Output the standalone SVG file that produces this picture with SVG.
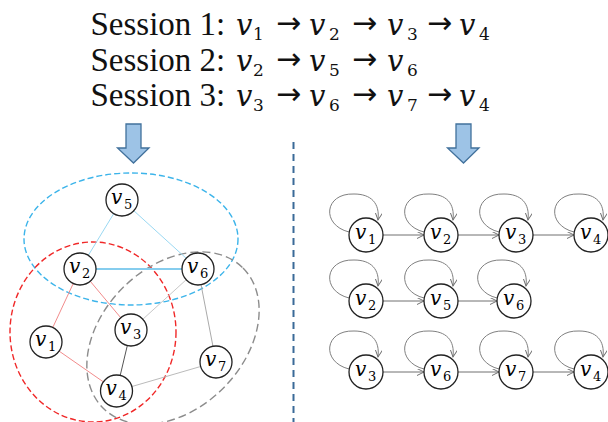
<svg xmlns="http://www.w3.org/2000/svg" width="608" height="422" viewBox="0 0 608 422">
<style>
.node circle{fill:#fff;stroke:#222;stroke-width:1.3}
.loop{fill:none;stroke:#808080;stroke-width:1}
.blk{fill:#9dc3e6;stroke:#41719c;stroke-width:1.3}
</style>
<defs>
<marker id="ah" markerUnits="userSpaceOnUse" markerWidth="9" markerHeight="9" refX="7" refY="3.5" orient="auto">
<path d="M0,0 L7,3.5 L0,7" fill="none" stroke="#707070" stroke-width="1"/>
</marker>
</defs>

<text x="90.5" y="35" style="font-family:'Liberation Serif',serif;font-size:33px;fill:#111">Session 1:</text>
<text x="90.5" y="71" style="font-family:'Liberation Serif',serif;font-size:33px;fill:#111">Session 2:</text>
<text x="90.5" y="106" style="font-family:'Liberation Serif',serif;font-size:33px;fill:#111">Session 3:</text>
<text x="236" y="35" style="font-family:'DejaVu Serif',serif;font-style:italic;font-size:29px;fill:#111">v</text><text x="253" y="40" style="font-family:'DejaVu Serif',serif;font-size:17px;fill:#111">1</text>
<text x="309" y="35" style="font-family:'DejaVu Serif',serif;font-style:italic;font-size:29px;fill:#111">v</text><text x="329" y="40" style="font-family:'DejaVu Serif',serif;font-size:17px;fill:#111">2</text>
<text x="387" y="35" style="font-family:'DejaVu Serif',serif;font-style:italic;font-size:29px;fill:#111">v</text><text x="407" y="40" style="font-family:'DejaVu Serif',serif;font-size:17px;fill:#111">3</text>
<text x="459" y="35" style="font-family:'DejaVu Serif',serif;font-style:italic;font-size:29px;fill:#111">v</text><text x="479" y="40" style="font-family:'DejaVu Serif',serif;font-size:17px;fill:#111">4</text>
<text x="236" y="71" style="font-family:'DejaVu Serif',serif;font-style:italic;font-size:29px;fill:#111">v</text><text x="253" y="76" style="font-family:'DejaVu Serif',serif;font-size:17px;fill:#111">2</text>
<text x="309" y="71" style="font-family:'DejaVu Serif',serif;font-style:italic;font-size:29px;fill:#111">v</text><text x="329" y="76" style="font-family:'DejaVu Serif',serif;font-size:17px;fill:#111">5</text>
<text x="387" y="71" style="font-family:'DejaVu Serif',serif;font-style:italic;font-size:29px;fill:#111">v</text><text x="407" y="76" style="font-family:'DejaVu Serif',serif;font-size:17px;fill:#111">6</text>
<text x="236" y="106" style="font-family:'DejaVu Serif',serif;font-style:italic;font-size:29px;fill:#111">v</text><text x="253" y="111" style="font-family:'DejaVu Serif',serif;font-size:17px;fill:#111">3</text>
<text x="309" y="106" style="font-family:'DejaVu Serif',serif;font-style:italic;font-size:29px;fill:#111">v</text><text x="329" y="111" style="font-family:'DejaVu Serif',serif;font-size:17px;fill:#111">6</text>
<text x="387" y="106" style="font-family:'DejaVu Serif',serif;font-style:italic;font-size:29px;fill:#111">v</text><text x="407" y="111" style="font-family:'DejaVu Serif',serif;font-size:17px;fill:#111">7</text>
<text x="459" y="106" style="font-family:'DejaVu Serif',serif;font-style:italic;font-size:29px;fill:#111">v</text><text x="479" y="111" style="font-family:'DejaVu Serif',serif;font-size:17px;fill:#111">4</text>
<text x="276" y="33" style="font-family:'DejaVu Sans',sans-serif;font-size:30px;fill:#111">&#8594;</text>
<text x="352" y="33" style="font-family:'DejaVu Sans',sans-serif;font-size:30px;fill:#111">&#8594;</text>
<text x="427" y="33" style="font-family:'DejaVu Sans',sans-serif;font-size:30px;fill:#111">&#8594;</text>
<text x="276" y="69" style="font-family:'DejaVu Sans',sans-serif;font-size:30px;fill:#111">&#8594;</text>
<text x="352" y="69" style="font-family:'DejaVu Sans',sans-serif;font-size:30px;fill:#111">&#8594;</text>
<text x="276" y="104" style="font-family:'DejaVu Sans',sans-serif;font-size:30px;fill:#111">&#8594;</text>
<text x="352" y="104" style="font-family:'DejaVu Sans',sans-serif;font-size:30px;fill:#111">&#8594;</text>
<text x="427" y="104" style="font-family:'DejaVu Sans',sans-serif;font-size:30px;fill:#111">&#8594;</text>

<path class="blk" d="M126,124 H141 V148 H149 L133.5,163 L117.5,148 H126 Z"/>
<path class="blk" d="M456,124 H471 V148 H479 L463.5,163 L447.5,148 H456 Z"/>

<line x1="293.5" y1="142" x2="293.5" y2="422" stroke="#3a6a98" stroke-width="2" stroke-dasharray="7 5"/>

<g id="clusters" fill="none" stroke-width="1.4">
<ellipse cx="131" cy="239" rx="107" ry="66" stroke="#3cb4ea" stroke-dasharray="6 3"/>
<ellipse cx="93" cy="332" rx="83" ry="90" stroke="#f02828" stroke-dasharray="6 3"/>
<ellipse cx="173" cy="338" rx="99" ry="71" transform="rotate(-45 173 338)" stroke="#8c8c8c" stroke-dasharray="8 4"/>
</g>

<g id="connectors">
<line x1="122" y1="200" x2="80" y2="269" stroke="#9ad8f2" stroke-width="1"/>
<line x1="122" y1="200" x2="198" y2="269" stroke="#9ad8f2" stroke-width="1"/>
<line x1="80" y1="269" x2="198" y2="269" stroke="#86cdee" stroke-width="2"/>
<line x1="80" y1="269" x2="46" y2="342" stroke="#f28c8c" stroke-width="1"/>
<line x1="80" y1="269" x2="131" y2="330" stroke="#f28c8c" stroke-width="1"/>
<line x1="46" y1="342" x2="116.5" y2="391" stroke="#f28c8c" stroke-width="1"/>
<line x1="198" y1="269" x2="131" y2="330" stroke="#c8c8c8" stroke-width="1"/>
<line x1="131" y1="330" x2="116.5" y2="391" stroke="#555" stroke-width="1"/>
<line x1="198" y1="269" x2="216" y2="362" stroke="#aaa" stroke-width="1"/>
<line x1="216" y1="362" x2="116.5" y2="391" stroke="#bbb" stroke-width="1"/>
<g stroke="#707070" stroke-width="1" marker-end="url(#ah)">
<line x1="383" y1="235" x2="424" y2="235"/>
<line x1="458" y1="235" x2="499" y2="235"/>
<line x1="533" y1="235" x2="574" y2="235"/>
<line x1="383" y1="301" x2="424" y2="301"/>
<line x1="458" y1="301" x2="497" y2="301"/>
<line x1="383" y1="372" x2="424" y2="372"/>
<line x1="458" y1="372" x2="499" y2="372"/>
<line x1="533" y1="372" x2="574" y2="372"/>
</g>
<g class="loop" marker-end="url(#ah)">
<path d="M349,232 C321,225 324,193 354,194 C371,194 380,203 378,220"/>
<path d="M424,232 C396,225 399,193 429,194 C446,194 455,203 453,220"/>
<path d="M499,232 C471,225 474,193 504,194 C521,194 530,203 528,220"/>
<path d="M574,232 C546,225 549,193 579,194 C596,194 605,203 603,220"/>
<path d="M349,298 C321,291 324,259 354,260 C371,260 380,269 378,286"/>
<path d="M424,298 C396,291 399,259 429,260 C446,260 455,269 453,286"/>
<path d="M497,298 C469,291 472,259 502,260 C519,260 528,269 526,286"/>
<path d="M349,369 C321,362 324,330 354,331 C371,331 380,340 378,357"/>
<path d="M424,369 C396,362 399,330 429,331 C446,331 455,340 453,357"/>
<path d="M499,369 C471,362 474,330 504,331 C521,331 530,340 528,357"/>
<path d="M574,369 C546,362 549,330 579,331 C596,331 605,340 603,357"/>
</g>
</g>

<g id="L-v5" class="node"><circle cx="122" cy="200" r="16"/><text x="111" y="204" style="font-family:'DejaVu Serif',serif;font-style:italic;font-size:20px">v</text><text x="124" y="209" style="font-family:'DejaVu Serif',serif;font-size:13px">5</text></g>
<g id="L-v2" class="node"><circle cx="80" cy="269" r="16"/><text x="69" y="273" style="font-family:'DejaVu Serif',serif;font-style:italic;font-size:20px">v</text><text x="82" y="278" style="font-family:'DejaVu Serif',serif;font-size:13px">2</text></g>
<g id="L-v6" class="node"><circle cx="198" cy="269" r="16"/><text x="187" y="273" style="font-family:'DejaVu Serif',serif;font-style:italic;font-size:20px">v</text><text x="200" y="278" style="font-family:'DejaVu Serif',serif;font-size:13px">6</text></g>
<g id="L-v1" class="node"><circle cx="46" cy="342" r="16"/><text x="35" y="346" style="font-family:'DejaVu Serif',serif;font-style:italic;font-size:20px">v</text><text x="48" y="351" style="font-family:'DejaVu Serif',serif;font-size:13px">1</text></g>
<g id="L-v3" class="node"><circle cx="131" cy="330" r="16"/><text x="120" y="334" style="font-family:'DejaVu Serif',serif;font-style:italic;font-size:20px">v</text><text x="133" y="339" style="font-family:'DejaVu Serif',serif;font-size:13px">3</text></g>
<g id="L-v4" class="node"><circle cx="116.5" cy="391" r="16"/><text x="105.5" y="395" style="font-family:'DejaVu Serif',serif;font-style:italic;font-size:20px">v</text><text x="118.5" y="400" style="font-family:'DejaVu Serif',serif;font-size:13px">4</text></g>
<g id="L-v7" class="node"><circle cx="216" cy="362" r="16"/><text x="205" y="366" style="font-family:'DejaVu Serif',serif;font-style:italic;font-size:20px">v</text><text x="218" y="371" style="font-family:'DejaVu Serif',serif;font-size:13px">7</text></g>

<g id="R1-v1" class="node"><circle cx="366" cy="235" r="17"/><text x="355" y="239" style="font-family:'DejaVu Serif',serif;font-style:italic;font-size:20px">v</text><text x="368" y="244" style="font-family:'DejaVu Serif',serif;font-size:13px">1</text></g>
<g id="R1-v2" class="node"><circle cx="441" cy="235" r="17"/><text x="430" y="239" style="font-family:'DejaVu Serif',serif;font-style:italic;font-size:20px">v</text><text x="443" y="244" style="font-family:'DejaVu Serif',serif;font-size:13px">2</text></g>
<g id="R1-v3" class="node"><circle cx="516" cy="235" r="17"/><text x="505" y="239" style="font-family:'DejaVu Serif',serif;font-style:italic;font-size:20px">v</text><text x="518" y="244" style="font-family:'DejaVu Serif',serif;font-size:13px">3</text></g>
<g id="R1-v4" class="node"><circle cx="591" cy="235" r="17"/><text x="580" y="239" style="font-family:'DejaVu Serif',serif;font-style:italic;font-size:20px">v</text><text x="593" y="244" style="font-family:'DejaVu Serif',serif;font-size:13px">4</text></g>
<g id="R2-v2" class="node"><circle cx="366" cy="301" r="17"/><text x="355" y="305" style="font-family:'DejaVu Serif',serif;font-style:italic;font-size:20px">v</text><text x="368" y="310" style="font-family:'DejaVu Serif',serif;font-size:13px">2</text></g>
<g id="R2-v5" class="node"><circle cx="441" cy="301" r="17"/><text x="430" y="305" style="font-family:'DejaVu Serif',serif;font-style:italic;font-size:20px">v</text><text x="443" y="310" style="font-family:'DejaVu Serif',serif;font-size:13px">5</text></g>
<g id="R2-v6" class="node"><circle cx="514" cy="301" r="17"/><text x="503" y="305" style="font-family:'DejaVu Serif',serif;font-style:italic;font-size:20px">v</text><text x="516" y="310" style="font-family:'DejaVu Serif',serif;font-size:13px">6</text></g>
<g id="R3-v3" class="node"><circle cx="366" cy="372" r="17"/><text x="355" y="376" style="font-family:'DejaVu Serif',serif;font-style:italic;font-size:20px">v</text><text x="368" y="381" style="font-family:'DejaVu Serif',serif;font-size:13px">3</text></g>
<g id="R3-v6" class="node"><circle cx="441" cy="372" r="17"/><text x="430" y="376" style="font-family:'DejaVu Serif',serif;font-style:italic;font-size:20px">v</text><text x="443" y="381" style="font-family:'DejaVu Serif',serif;font-size:13px">6</text></g>
<g id="R3-v7" class="node"><circle cx="516" cy="372" r="17"/><text x="505" y="376" style="font-family:'DejaVu Serif',serif;font-style:italic;font-size:20px">v</text><text x="518" y="381" style="font-family:'DejaVu Serif',serif;font-size:13px">7</text></g>
<g id="R3-v4" class="node"><circle cx="591" cy="372" r="17"/><text x="580" y="376" style="font-family:'DejaVu Serif',serif;font-style:italic;font-size:20px">v</text><text x="593" y="381" style="font-family:'DejaVu Serif',serif;font-size:13px">4</text></g>
</svg>
